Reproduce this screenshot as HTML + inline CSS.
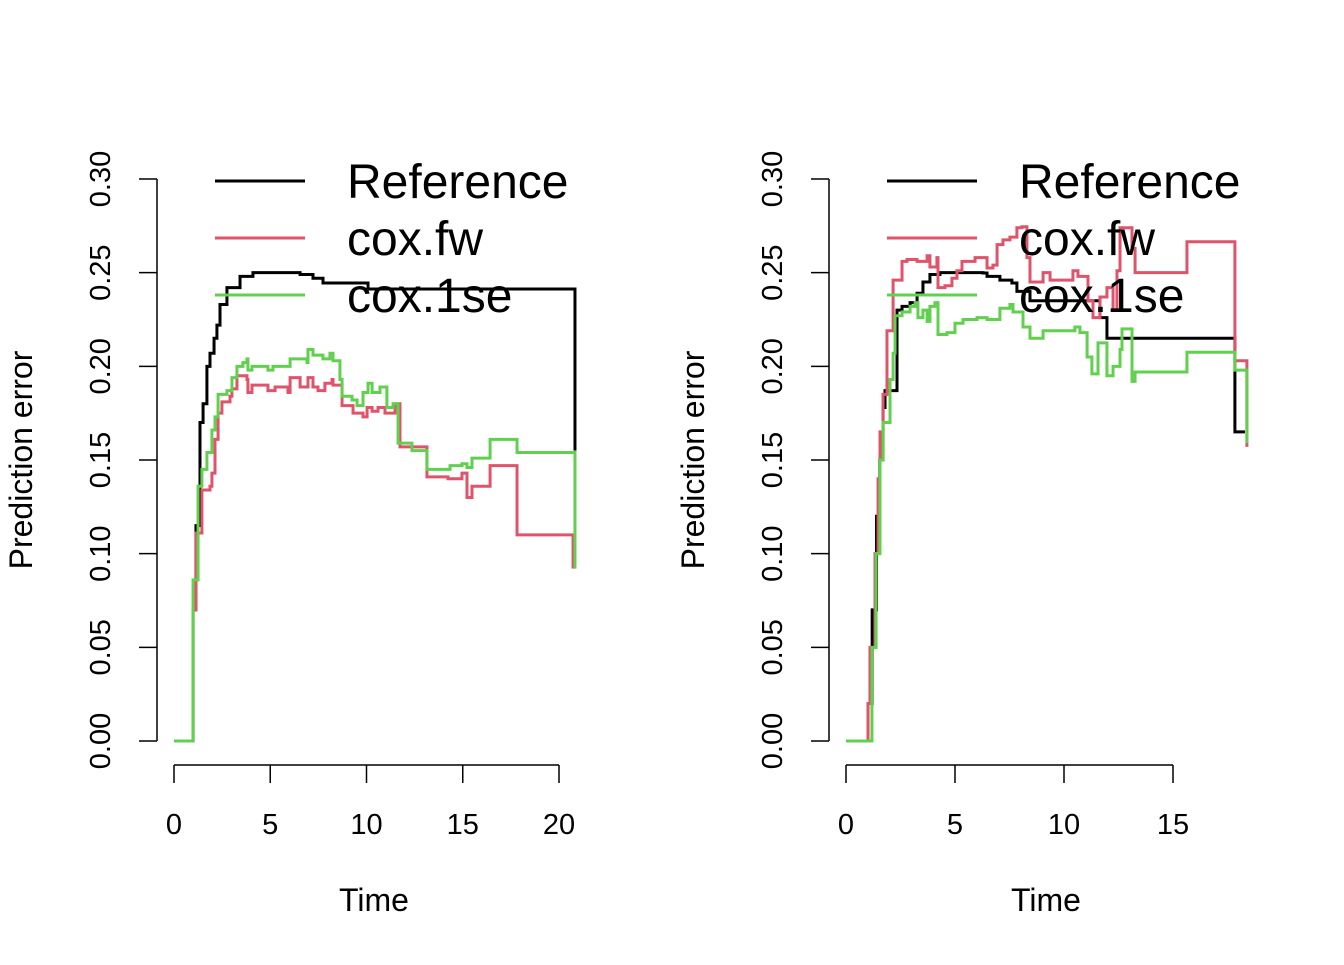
<!DOCTYPE html>
<html><head><meta charset="utf-8"><style>
html,body{margin:0;padding:0;background:#fff;}
svg text{font-family:"Liberation Sans",Arial,sans-serif;}
</style></head><body>
<svg id="chart" width="1344" height="960"></svg>
<script>
// Left panel data
const leftRefT=[0,0.99,1.14,1.35,1.51,1.71,1.87,2.08,2.23,2.39,2.75,3.43,4.1,5.87,6.55,7.22,7.74,10.08,20.83];
const leftRefV=[0,0.07,0.115,0.17,0.18,0.2,0.207,0.215,0.222,0.233,0.242,0.248,0.25,0.25,0.249,0.247,0.2445,0.2413,0.155];
const leftFwT=[0,0.99,1.14,1.35,1.45,1.87,1.97,2.13,2.29,2.49,2.91,3.01,3.27,3.79,3.84,4.05,4.88,5.25,5.92,6.03,6.55,6.96,7.22,7.48,7.84,8.21,8.26,8.73,9.30,9.82,10.03,10.29,10.60,10.96,11.48,11.74,13.14,14.23,14.96,15.22,15.48,16.42,17.82,20.73];
const leftFwV=[0,0.07,0.111,0.111,0.134,0.136,0.143,0.161,0.175,0.181,0.184,0.188,0.195,0.193,0.186,0.19,0.187,0.189,0.186,0.194,0.189,0.194,0.189,0.187,0.191,0.193,0.19,0.179,0.175,0.173,0.178,0.176,0.178,0.175,0.18,0.157,0.141,0.14,0.143,0.13,0.136,0.147,0.11,0.092];
const leftSeT=[0,0.99,1.25,1.45,1.71,1.97,2.13,2.29,2.75,3.01,3.27,3.58,3.79,3.84,4.05,4.88,5.14,6.03,6.91,6.96,7.22,7.74,8.10,8.26,8.62,8.73,9.25,9.51,9.82,10.08,10.29,10.70,11.06,11.38,11.64,12.36,13.14,14.34,14.96,15.22,15.48,16.42,17.82,20.83];
const leftSeV=[0,0.086,0.136,0.145,0.154,0.166,0.173,0.185,0.187,0.194,0.2,0.202,0.204,0.198,0.2,0.198,0.2,0.204,0.202,0.209,0.206,0.204,0.207,0.203,0.193,0.184,0.182,0.179,0.186,0.191,0.186,0.189,0.178,0.18,0.159,0.155,0.145,0.147,0.148,0.146,0.151,0.161,0.154,0.092];
// Right panel data
const rightRefT=[0,1.01,1.2,1.4,1.55,1.70,1.79,2.34,2.57,2.94,3.26,3.53,3.85,4.31,6.28,6.47,7.06,7.61,7.84,8.44,11.65,11.97,17.84,18.30];
const rightRefV=[0,0.02,0.07,0.12,0.15,0.178,0.187,0.23,0.232,0.234,0.239,0.245,0.249,0.25,0.2498,0.248,0.246,0.2445,0.24,0.235,0.226,0.215,0.165,0.165];
const rightFwT=[0,1.01,1.10,1.33,1.47,1.56,1.70,1.88,2.16,2.57,2.80,3.26,3.72,3.85,4.17,4.22,4.54,4.86,5.09,5.32,5.92,6.47,6.74,6.93,7.20,7.52,7.84,8.07,8.30,8.44,9.04,9.36,10.41,10.64,11.10,11.33,11.65,11.97,12.25,12.43,12.57,13.12,13.26,15.64,17.84,18.39];
const rightFwV=[0,0.02,0.05,0.10,0.14,0.165,0.185,0.219,0.246,0.256,0.257,0.256,0.259,0.253,0.258,0.242,0.243,0.247,0.251,0.256,0.258,0.2525,0.254,0.265,0.2675,0.269,0.274,0.2745,0.258,0.245,0.25,0.246,0.251,0.248,0.235,0.226,0.237,0.242,0.23,0.251,0.274,0.263,0.25,0.2665,0.203,0.157];
const rightSeT=[0,1.01,1.19,1.38,1.56,1.70,2.02,2.16,2.25,2.57,2.94,3.17,3.30,3.53,3.72,3.85,4.08,4.22,4.63,5.0,5.37,6.01,6.47,7.06,7.52,7.66,8.12,8.44,9.04,10.50,10.73,11.06,11.28,11.56,11.97,12.25,12.57,12.66,13.12,13.26,15.64,17.84,18.39];
const rightSeV=[0,0.0,0.05,0.10,0.15,0.17,0.193,0.207,0.227,0.229,0.232,0.234,0.226,0.23,0.224,0.232,0.234,0.217,0.218,0.223,0.225,0.226,0.225,0.231,0.233,0.229,0.221,0.215,0.219,0.221,0.218,0.205,0.196,0.2125,0.195,0.2,0.209,0.22,0.192,0.197,0.2075,0.198,0.159];
const yTicks=[0,0.05,0.10,0.15,0.20,0.25,0.30];
const yTickLabels=["0.00","0.05","0.10","0.15","0.20","0.25","0.30"];
const leftXTicks=[0,5,10,15,20];
const rightXTicks=[0,5,10,15];
const legendLabels=["Reference","cox.fw","cox.1se"];
const colors=["#000000","#DF536B","#61D04F"];

const NS="http://www.w3.org/2000/svg";
const svg=document.getElementById('chart');
function mk(tag,attrs,parent){const e=document.createElementNS(NS,tag);for(const k in attrs)e.setAttribute(k,attrs[k]);(parent||svg).appendChild(e);return e;}
const Y0=741,Y1=179;
function yS(v){return Y0-(v-0)/(0.30)*(Y0-Y1);}

function panel(name,x0px,pxPerUnit,axisX,xTicks,series,legendX,titleX){
  const g=mk('g',{});
  
  
  const xS=t=>x0px+t*pxPerUnit;
  const ya=mk('g',{},g);
  
  
  mk('line',{x1:axisX,y1:yS(0),x2:axisX,y2:yS(0.30),stroke:'#000','stroke-width':1.5},ya);
  yTicks.forEach((v,i)=>{
    mk('line',{x1:axisX-18,y1:yS(v),x2:axisX,y2:yS(v),stroke:'#000','stroke-width':1.5},ya);
    const t=mk('text',{x:0,y:0,'font-size':29,'text-anchor':'middle',transform:`translate(${axisX-47},${yS(v)}) rotate(-90)`},ya);
    t.textContent=yTickLabels[i];
    
    
  });
  const yt=mk('text',{'font-size':32,'text-anchor':'middle',transform:`translate(${axisX-125},460) rotate(-90)`},g);
  yt.textContent='Prediction error';
  
  
  const xa=mk('g',{},g);
  
  
  mk('line',{x1:xS(xTicks[0]),y1:765,x2:xS(xTicks[xTicks.length-1]),y2:765,stroke:'#000','stroke-width':1.5},xa);
  xTicks.forEach(v=>{
    mk('line',{x1:xS(v),y1:765,x2:xS(v),y2:783,stroke:'#000','stroke-width':1.5},xa);
    const t=mk('text',{x:xS(v),y:834,'font-size':29,'text-anchor':'middle'},xa);
    t.textContent=String(v);
    
    
  });
  const xt=mk('text',{x:titleX,y:911,'font-size':32,'text-anchor':'middle'},g);
  xt.textContent='Time';
  
  
  series.forEach((s,si)=>{
    let d=`M${xS(s.t[0])},${yS(s.v[0])}`;
    for(let i=1;i<s.t.length;i++){d+=` H${xS(s.t[i])} V${yS(s.v[i])}`;}
    const p=mk('path',{d:d,fill:'none',stroke:colors[si],'stroke-width':3},g);
    
    
  });
  legendLabels.forEach((lab,i)=>{
    const yy=181+i*57;
    const lg=mk('g',{},g);
    
    
    mk('line',{x1:legendX,y1:yy,x2:legendX+90,y2:yy,stroke:colors[i],'stroke-width':3},lg);
    const t=mk('text',{x:legendX+132,y:yy+17,'font-size':48},lg);
    t.textContent=lab;
  });
}
panel('left',174,19.25,157,leftXTicks,[{t:leftRefT,v:leftRefV},{t:leftFwT,v:leftFwV},{t:leftSeT,v:leftSeV}],215,374);
panel('right',846,21.8,829,rightXTicks,[{t:rightRefT,v:rightRefV},{t:rightFwT,v:rightFwV},{t:rightSeT,v:rightSeV}],887,1046);
</script>
</body></html>
